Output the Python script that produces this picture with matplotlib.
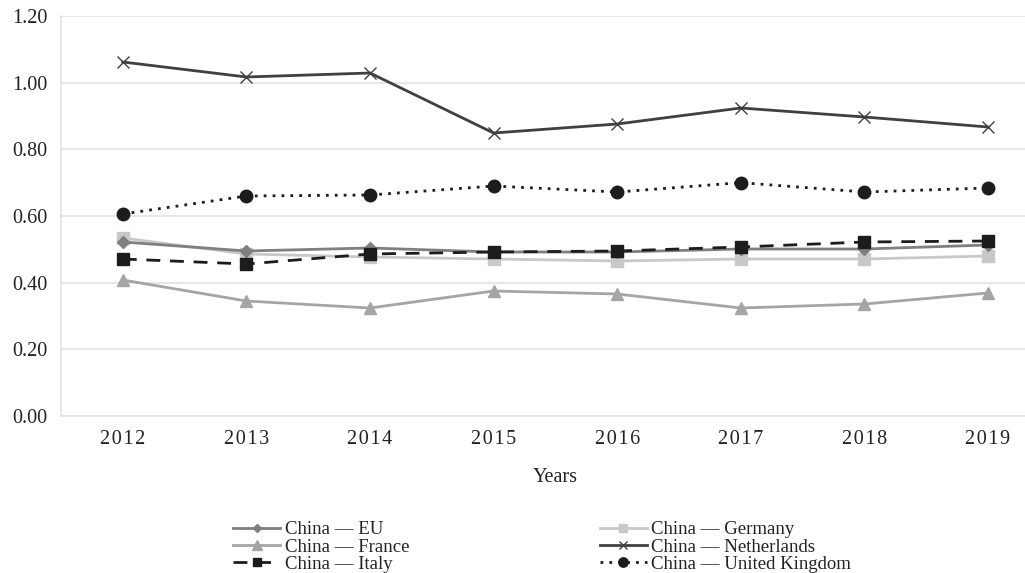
import matplotlib
matplotlib.use("Agg")
import matplotlib.pyplot as plt

plt.rcParams['font.family'] = ['Liberation Serif', 'DejaVu Serif']

years = ["2012", "2013", "2014", "2015", "2016", "2017", "2018", "2019"]

eu = [0.522, 0.495, 0.504, 0.492, 0.492, 0.501, 0.501, 0.513]
france = [0.408, 0.345, 0.324, 0.375, 0.366, 0.324, 0.336, 0.369]
italy = [0.471, 0.456, 0.486, 0.492, 0.495, 0.507, 0.522, 0.525]
germany = [0.534, 0.486, 0.477, 0.471, 0.465, 0.471, 0.471, 0.480]
netherlands = [1.062, 1.017, 1.029, 0.849, 0.876, 0.924, 0.897, 0.867]
uk = [0.606, 0.660, 0.663, 0.690, 0.672, 0.700, 0.672, 0.684]

labels = ["China — EU", "China — France", "China — Italy",
          "China — Germany", "China — Netherlands", "China — United Kingdom"]

W, H = 1025, 573
fig = plt.figure(figsize=(W / 100, H / 100), dpi=100)
ax = fig.add_axes([61 / W, 157 / H, (W - 61) / W, 400 / H])

x = list(range(len(years)))
ax.plot(x, eu, color="#7f7f7f", lw=2, marker="D", ms=6, label=labels[0], zorder=3)
ax.plot(x, france, color="#a5a5a5", lw=2, marker="^", ms=9, label=labels[1], zorder=3)
ax.plot(x, italy, color="#1c1c1c", lw=2, ls=(0, (5, 3.5)), marker="s", ms=8.5,
        label=labels[2], zorder=5)
ax.plot(x, germany, color="#c8c8c8", lw=2, marker="s", ms=8.5, label=labels[3], zorder=2)
ax.plot(x, netherlands, color="#404040", lw=2, marker="x", ms=8, mew=1,
        label=labels[4], zorder=3)
ax.plot(x, uk, color="#1c1c1c", lw=2, ls=(0, (1, 2.2)), marker="o", ms=9,
        label=labels[5], zorder=4)

ax.set_ylim(0, 1.2)
ax.set_yticks([0, 0.2, 0.4, 0.6, 0.8, 1.0, 1.2])
ax.set_yticklabels([f"{v:.2f}" for v in ax.get_yticks()])
ax.set_xlim(-0.5, (W - 123) / 123.57)
ax.set_xticks(x)
ax.set_xticklabels(["\u200a".join(y) for y in years])

ax.grid(axis="y", color="#e3e3e3", lw=1.2)
ax.set_axisbelow(True)
for s in ["top", "right"]:
    ax.spines[s].set_visible(False)
ax.spines["left"].set_color("#e3e3e3")
ax.spines["bottom"].set_color("#e3e3e3")
ax.spines["left"].set_linewidth(1.2)
ax.spines["bottom"].set_linewidth(1.2)
ax.tick_params(axis="both", length=0, labelsize=14.5, colors="#222222")
ax.tick_params(axis="y", pad=10)
ax.tick_params(axis="x", pad=10)

fig.text(555 / W, 1 - 477 / H, "Years", ha="center", va="center",
         fontsize=14.5, color="#222222")

handles, lbls = ax.get_legend_handles_labels()
fig.legend(handles, lbls, ncol=2, loc="upper left",
           bbox_to_anchor=(224 / W, 1 - 512 / H), frameon=False,
           fontsize=13.5, labelspacing=0.0, handlelength=2.5,
           handletextpad=0.25, columnspacing=10.15, borderpad=0,
           markerscale=0.75, labelcolor="#222222")

fig.savefig("out.png", dpi=100)
